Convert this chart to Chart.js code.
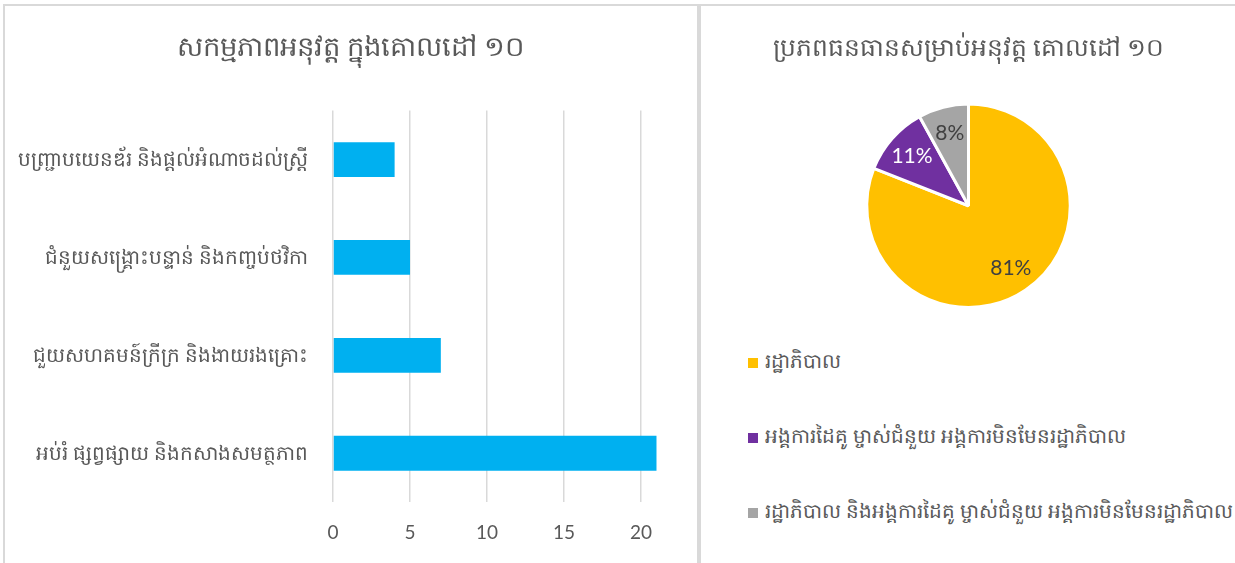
<!DOCTYPE html>
<html>
<head>
<meta charset="utf-8">
<script src="https://cdn.jsdelivr.net/npm/chart.js@4/dist/chart.umd.min.js"></script>
<style>
  body { margin: 0; width: 1235px; height: 563px; overflow: hidden; background: #fff; position: relative; }
  .panel { position: absolute; top: 4px; height: 600px; border: 2px solid #d9d9d9; box-sizing: border-box; }
  #leftPanel { left: 3px; width: 696px; }
  #rightPanel { left: 699px; width: 560px; }
  .holder { position: absolute; }
  #barHolder { left: 6px; top: 6px; width: 689px; height: 557px; }
  #pieHolder { left: 702px; top: 6px; width: 533px; height: 307px; }
  #pieLegend { position: absolute; left: 748px; top: 350px; margin: 0; padding: 0; list-style: none;
    font: 20px Lato, "Noto Sans", sans-serif; color: #595959; }
  #pieLegend li { display: flex; align-items: center; height: 26px; margin-bottom: 49px; white-space: nowrap; }
  #pieLegend span { display: inline-block; width: 10px; height: 10px; margin-right: 7px; }
</style>
</head>
<body>
<div class="panel" id="leftPanel"></div>
<div class="panel" id="rightPanel"></div>
<div class="holder" id="barHolder"><canvas id="bar"></canvas></div>
<div class="holder" id="pieHolder"><canvas id="pie"></canvas></div>
<ul id="pieLegend"></ul>
<script>
// activities under goal 10
const barTitle = 'សកម្មភាពអនុវត្ត ក្នុងគោលដៅ ១០';
const activities = [
  'បញ្ជ្រាបយេនឌ័រ និងផ្តល់អំណាចដល់ស្ត្រី',
  'ជំនួយសង្គ្រោះបន្ទាន់ និងកញ្ចប់ថវិកា',
  'ជួយសហគមន៍ក្រីក្រ និងងាយរងគ្រោះ',
  'អប់រំ ផ្សព្វផ្សាយ និងកសាងសមត្ថភាព'
];
const activityCounts = [4, 5, 7, 21];
const countTicks = [0, 5, 10, 15, 20];

// funding sources, percent
const pieTitle = 'ប្រភពធនធានសម្រាប់អនុវត្ត គោលដៅ ១០';
const sources = [
  'រដ្ឋាភិបាល',
  'អង្គការដៃគូ ម្ចាស់ជំនួយ អង្គការមិនមែនរដ្ឋាភិបាល',
  'រដ្ឋាភិបាល និងអង្គការដៃគូ ម្ចាស់ជំនួយ អង្គការមិនមែនរដ្ឋាភិបាល'
];
const sourceShares = [81, 11, 8];
const sourceColors = ['#FFC000', '#7030A0', '#A5A5A5'];
const shareLabelColors = ['#404040', '#ffffff', '#404040'];

const FONT = 'Lato, "Noto Sans", sans-serif';
const GREY = '#595959';
Chart.defaults.font.family = FONT;
Chart.defaults.color = GREY;

new Chart(document.getElementById('bar'), {
  type: 'bar',
  data: {
    labels: activities,
    datasets: [{
      data: activityCounts,
      backgroundColor: '#00B0F0',
      barPercentage: 0.355,
      categoryPercentage: 1
    }]
  },
  options: {
    indexAxis: 'y',
    responsive: true,
    maintainAspectRatio: false,
    animation: false,
    layout: { padding: 0 },
    plugins: {
      legend: { display: false },
      tooltip: { enabled: false },
      title: {
        display: true,
        text: barTitle,
        color: GREY,
        font: { size: 27.5, weight: 'normal' },
        padding: { top: 25, bottom: 46.6 }
      }
    },
    scales: {
      x: {
        min: 0,
        max: 23.5,
        // gridlines only every 5, the axis runs on past the last one
        afterBuildTicks: s => { s.ticks = countTicks.map(v => ({ value: v })); },
        grid: { color: '#d9d9d9', lineWidth: 1.5, drawTicks: false },
        border: { display: false },
        ticks: { font: { size: 19 }, color: GREY, padding: 19 }
      },
      y: {
        afterFit: s => { s.width = 327; },
        grid: { display: false, drawTicks: false },
        border: { display: false },
        ticks: { font: { size: 20 }, color: GREY, padding: 25 }
      }
    }
  }
});

// percentage text inside each slice
const sliceLabels = {
  id: 'sliceLabels',
  afterDatasetsDraw(chart) {
    const ctx = chart.ctx;
    const meta = chart.getDatasetMeta(0);
    const values = chart.data.datasets[0].data;
    const total = values.reduce((a, b) => a + b, 0);
    ctx.save();
    ctx.font = '21px ' + FONT;
    ctx.textAlign = 'center';
    ctx.textBaseline = 'middle';
    meta.data.forEach((arc, i) => {
      const { x, y, startAngle, endAngle, outerRadius } = arc.getProps(['x', 'y', 'startAngle', 'endAngle', 'outerRadius'], true);
      const mid = (startAngle + endAngle) / 2;
      const r = outerRadius * 0.74;
      ctx.fillStyle = shareLabelColors[i];
      ctx.fillText(Math.round(values[i] / total * 100) + '%', x + Math.cos(mid) * r, y + Math.sin(mid) * r);
    });
    ctx.restore();
  }
};

// legend rendered as a list beside the canvas
const htmlLegend = {
  id: 'htmlLegend',
  afterUpdate(chart) {
    const ul = document.getElementById('pieLegend');
    ul.innerHTML = '';
    chart.options.plugins.legend.labels.generateLabels(chart).forEach(item => {
      const li = document.createElement('li');
      const box = document.createElement('span');
      box.style.background = item.fillStyle;
      li.appendChild(box);
      li.appendChild(document.createTextNode(item.text));
      ul.appendChild(li);
    });
  }
};

new Chart(document.getElementById('pie'), {
  type: 'pie',
  data: {
    labels: sources,
    datasets: [{
      data: sourceShares,
      backgroundColor: sourceColors,
      borderColor: '#ffffff',
      borderWidth: 3
    }]
  },
  options: {
    responsive: true,
    maintainAspectRatio: false,
    animation: false,
    layout: { padding: { bottom: 4 } },
    plugins: {
      legend: { display: false },
      tooltip: { enabled: false },
      title: {
        display: true,
        text: pieTitle,
        color: GREY,
        font: { size: 25, weight: 'normal' },
        padding: { top: 27, bottom: 39.5 }
      }
    }
  },
  plugins: [sliceLabels, htmlLegend]
});
</script>
</body>
</html>
